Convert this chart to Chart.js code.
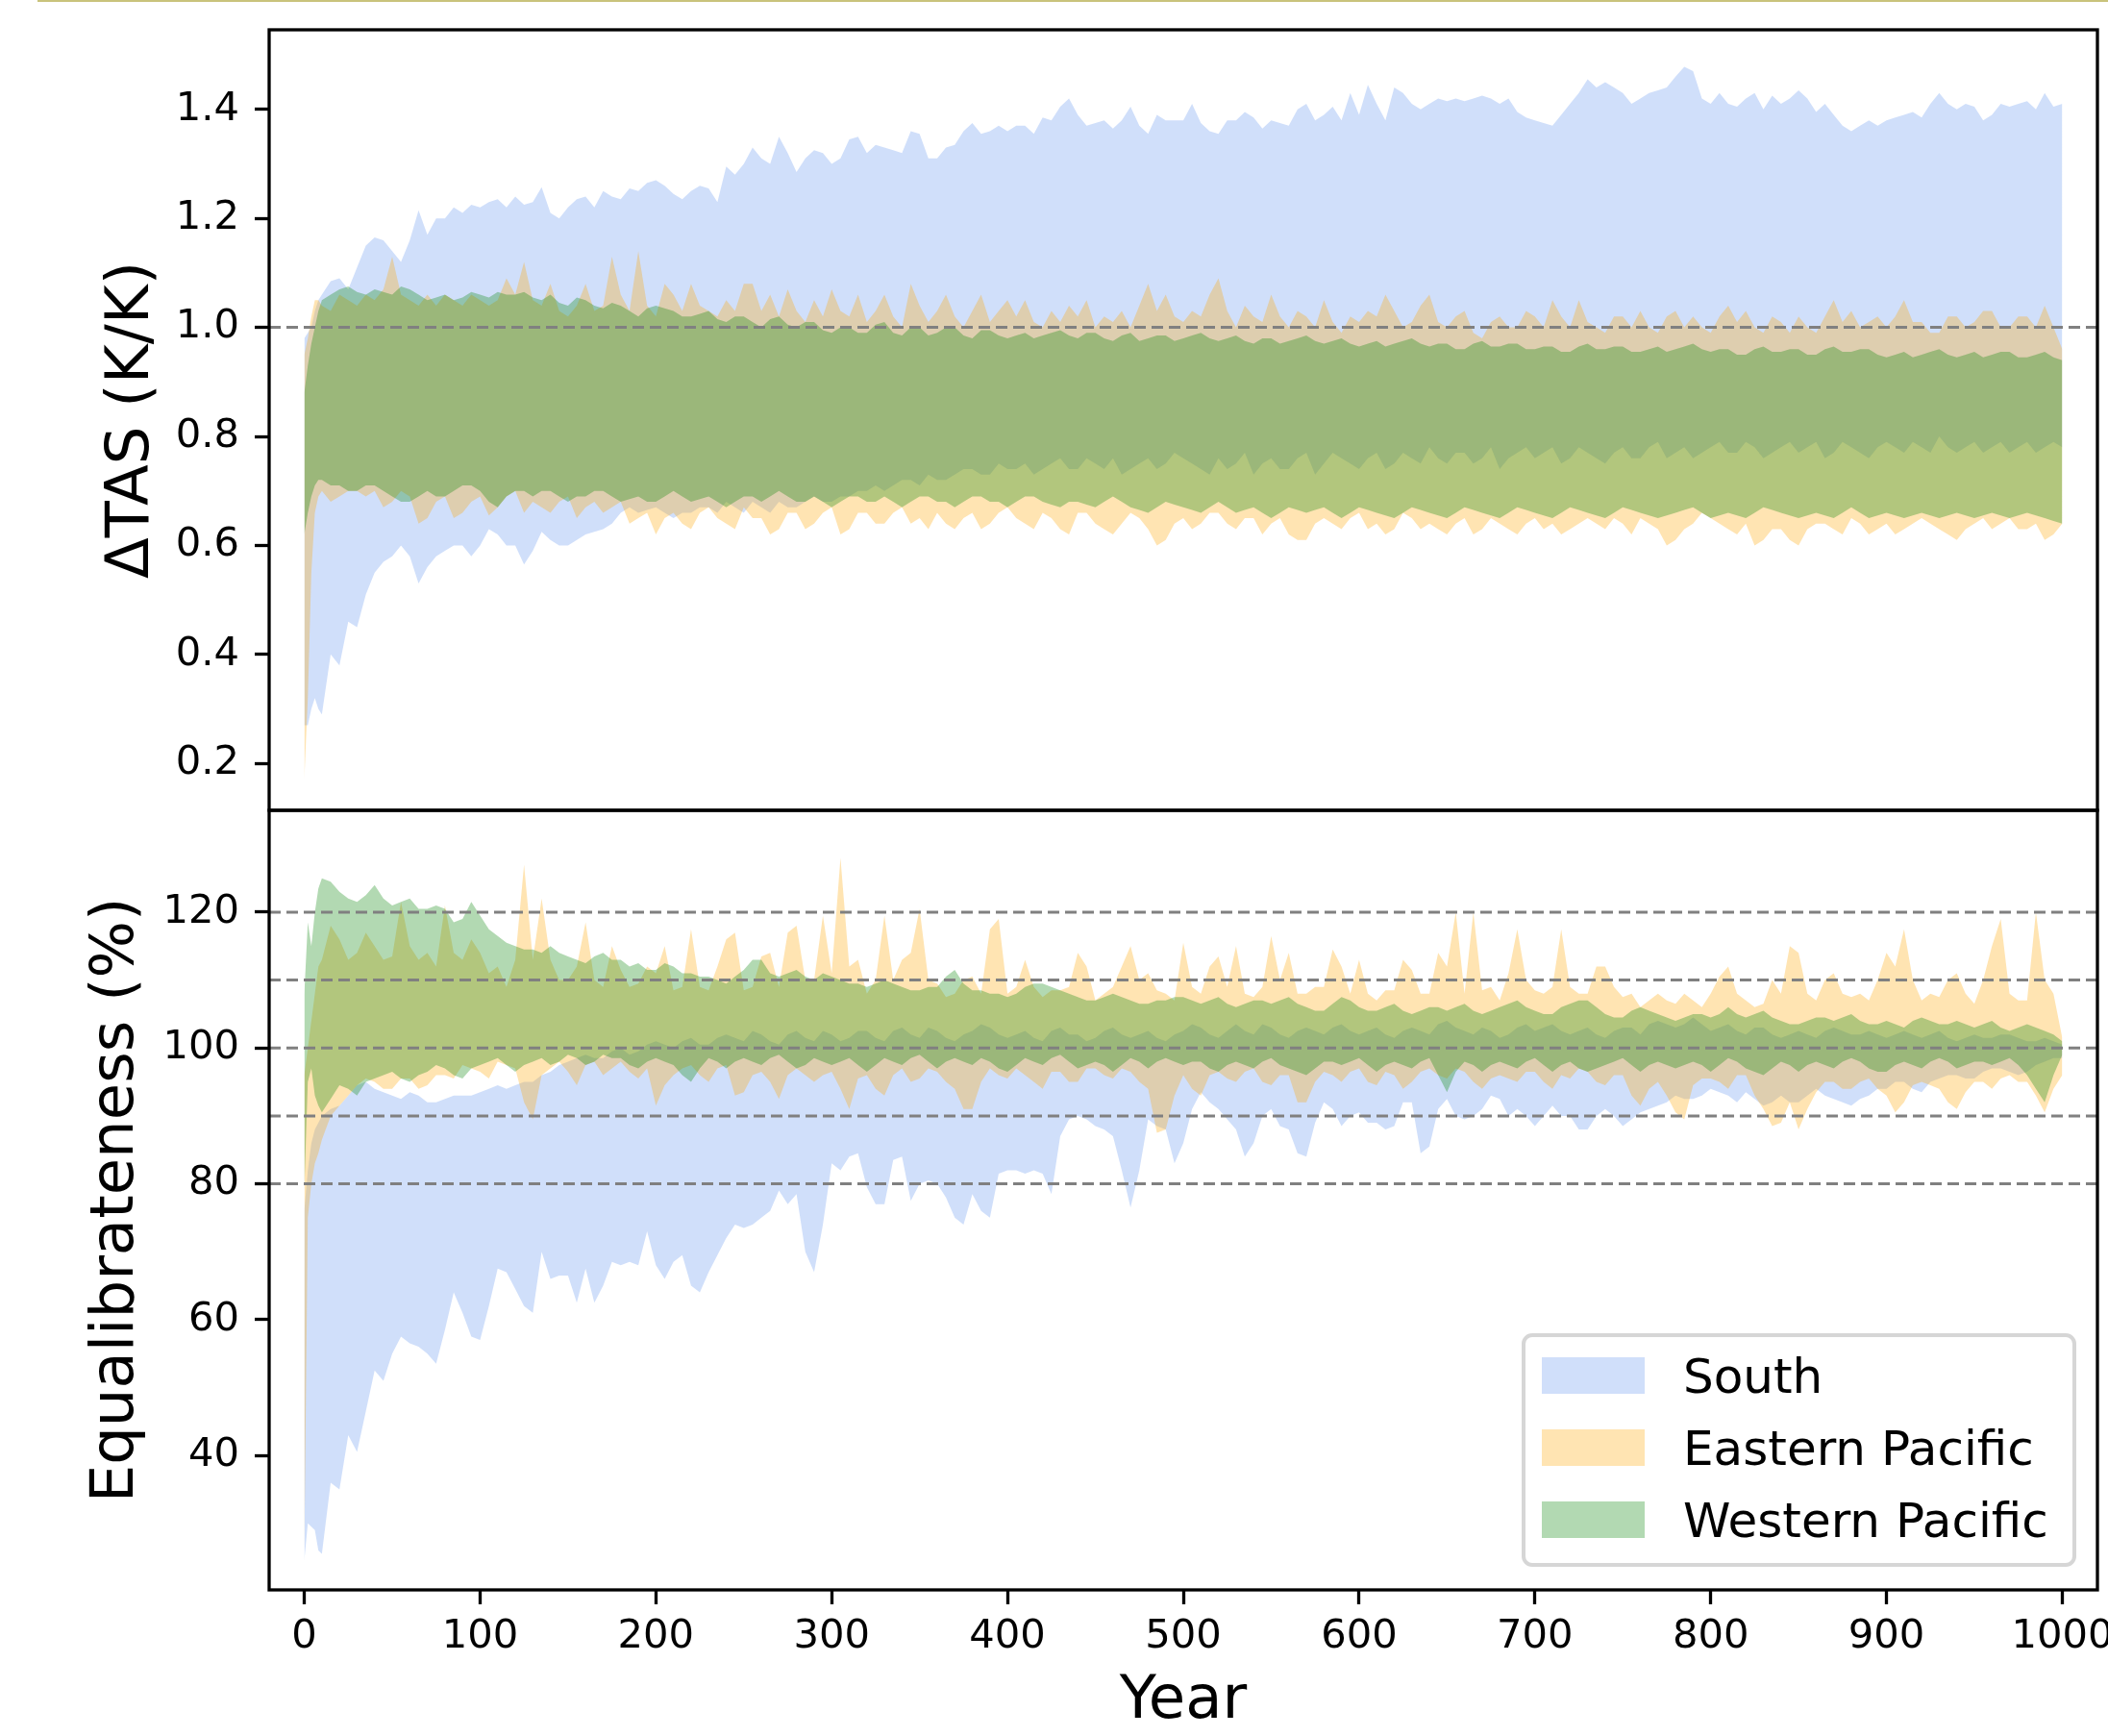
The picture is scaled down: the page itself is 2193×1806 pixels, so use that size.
<!DOCTYPE html>
<html>
<head>
<meta charset="utf-8">
<script src="https://cdn.jsdelivr.net/npm/chart.js@4.4.1/dist/chart.umd.min.js"></script>
<style>
  html, body { margin: 0; padding: 0; background: #fff; }
  body { width: 2193px; height: 1806px; position: relative; overflow: hidden; }
  #topLine { position: absolute; left: 39px; top: 0; width: 2154px; height: 2px; background: #c9c37c; }
  #chartTas { position: absolute; left: 0; top: 0; }
  #chartEq { position: absolute; left: 0; top: 780px; }
</style>
</head>
<body>
<div id="topLine"></div>
<canvas id="chartTas" width="2193" height="860"></canvas>
<canvas id="chartEq" width="2193" height="1026"></canvas>
<script>
Chart.defaults.font.family = "'DejaVu Sans', sans-serif";
Chart.defaults.color = "#000";

// Data
const years = [0, 2, 4, 6, 8, 10,
  15, 20, 25, 30, 35, 40, 45, 50, 55, 60, 65, 70, 75, 80, 85, 90, 95, 100,
  105, 110, 115, 120, 125, 130, 135, 140, 145, 150, 155, 160, 165, 170, 175, 180, 185, 190, 195, 200,
  205, 210, 215, 220, 225, 230, 235, 240, 245, 250, 255, 260, 265, 270, 275, 280, 285, 290, 295, 300,
  305, 310, 315, 320, 325, 330, 335, 340, 345, 350, 355, 360, 365, 370, 375, 380, 385, 390, 395, 400,
  405, 410, 415, 420, 425, 430, 435, 440, 445, 450, 455, 460, 465, 470, 475, 480, 485, 490, 495, 500,
  505, 510, 515, 520, 525, 530, 535, 540, 545, 550, 555, 560, 565, 570, 575, 580, 585, 590, 595, 600,
  605, 610, 615, 620, 625, 630, 635, 640, 645, 650, 655, 660, 665, 670, 675, 680, 685, 690, 695, 700,
  705, 710, 715, 720, 725, 730, 735, 740, 745, 750, 755, 760, 765, 770, 775, 780, 785, 790, 795, 800,
  805, 810, 815, 820, 825, 830, 835, 840, 845, 850, 855, 860, 865, 870, 875, 880, 885, 890, 895, 900,
  905, 910, 915, 920, 925, 930, 935, 940, 945, 950, 955, 960, 965, 970, 975, 980, 985, 990, 995, 1000];

const seriesNames = ["South", "Eastern Pacific", "Western Pacific"];
const seriesColors = ["rgba(100,149,237,0.3)", "rgba(255,165,0,0.3)", "rgba(0,128,0,0.3)"];

const yearTicks = [0, 100, 200, 300, 400, 500, 600, 700, 800, 900, 1000];
const tasTicks = [0.2, 0.4, 0.6, 0.8, 1.0, 1.2, 1.4];
const eqTicks = [40, 60, 80, 100, 120];
const tasRefLines = [1.0];
const eqRefLines = [80, 90, 100, 110, 120];

// Delta TAS (K/K)
const tasSouthHi = [0.98, 0.99, 1.00, 1.03, 1.05, 1.06,
  1.085, 1.09, 1.07, 1.11, 1.15, 1.165, 1.16, 1.14, 1.12, 1.16, 1.215, 1.17, 1.20, 1.20, 1.22, 1.21, 1.225, 1.22,
  1.23, 1.235, 1.22, 1.24, 1.225, 1.23, 1.257, 1.21, 1.20, 1.22, 1.235, 1.24, 1.22, 1.25, 1.24, 1.235, 1.255, 1.25, 1.265, 1.27,
  1.26, 1.245, 1.235, 1.25, 1.26, 1.255, 1.23, 1.295, 1.28, 1.30, 1.33, 1.31, 1.30, 1.35, 1.32, 1.285, 1.31, 1.325, 1.32, 1.30,
  1.31, 1.345, 1.35, 1.32, 1.335, 1.33, 1.325, 1.32, 1.36, 1.355, 1.31, 1.31, 1.33, 1.335, 1.36, 1.375, 1.355, 1.36, 1.37, 1.36,
  1.37, 1.37, 1.355, 1.385, 1.38, 1.405, 1.42, 1.39, 1.37, 1.375, 1.38, 1.365, 1.38, 1.405, 1.37, 1.355, 1.39, 1.38, 1.38, 1.38,
  1.41, 1.375, 1.36, 1.355, 1.38, 1.38, 1.395, 1.385, 1.365, 1.38, 1.375, 1.37, 1.40, 1.41, 1.38, 1.39, 1.405, 1.38, 1.43, 1.39,
  1.445, 1.41, 1.38, 1.44, 1.43, 1.41, 1.40, 1.41, 1.42, 1.415, 1.42, 1.415, 1.42, 1.425, 1.42, 1.41, 1.42, 1.395, 1.385, 1.38,
  1.375, 1.37, 1.39, 1.41, 1.43, 1.455, 1.44, 1.45, 1.44, 1.43, 1.41, 1.42, 1.43, 1.435, 1.44, 1.46, 1.478, 1.47, 1.42, 1.41,
  1.43, 1.41, 1.405, 1.42, 1.43, 1.40, 1.425, 1.41, 1.42, 1.435, 1.42, 1.395, 1.41, 1.39, 1.37, 1.36, 1.37, 1.38, 1.37, 1.38,
  1.385, 1.39, 1.395, 1.385, 1.41, 1.43, 1.41, 1.40, 1.41, 1.405, 1.38, 1.39, 1.41, 1.405, 1.41, 1.415, 1.40, 1.43, 1.405, 1.41];
const tasSouthLo = [0.27, 0.27, 0.30, 0.32, 0.30, 0.29,
  0.40, 0.38, 0.46, 0.45, 0.51, 0.55, 0.57, 0.58, 0.60, 0.58, 0.53, 0.56, 0.58, 0.59, 0.60, 0.60, 0.58, 0.60,
  0.63, 0.62, 0.60, 0.60, 0.565, 0.59, 0.625, 0.61, 0.60, 0.60, 0.61, 0.62, 0.625, 0.63, 0.64, 0.66, 0.67, 0.66, 0.665, 0.67,
  0.66, 0.65, 0.66, 0.66, 0.67, 0.67, 0.66, 0.68, 0.67, 0.66, 0.68, 0.67, 0.66, 0.68, 0.67, 0.67, 0.68, 0.69, 0.68, 0.68,
  0.69, 0.69, 0.70, 0.70, 0.71, 0.70, 0.71, 0.72, 0.72, 0.71, 0.73, 0.72, 0.72, 0.73, 0.74, 0.74, 0.73, 0.73, 0.75, 0.74,
  0.74, 0.75, 0.73, 0.74, 0.75, 0.76, 0.74, 0.74, 0.76, 0.75, 0.74, 0.76, 0.73, 0.74, 0.75, 0.76, 0.74, 0.75, 0.77, 0.76,
  0.75, 0.74, 0.73, 0.76, 0.74, 0.75, 0.77, 0.73, 0.75, 0.76, 0.74, 0.74, 0.76, 0.77, 0.73, 0.75, 0.77, 0.76, 0.75, 0.74,
  0.76, 0.77, 0.74, 0.75, 0.77, 0.76, 0.75, 0.78, 0.76, 0.75, 0.77, 0.77, 0.75, 0.76, 0.78, 0.74, 0.76, 0.77, 0.78, 0.76,
  0.77, 0.78, 0.75, 0.76, 0.78, 0.77, 0.76, 0.75, 0.77, 0.78, 0.76, 0.76, 0.78, 0.79, 0.76, 0.77, 0.78, 0.76, 0.77, 0.78,
  0.79, 0.77, 0.77, 0.79, 0.78, 0.76, 0.77, 0.78, 0.79, 0.77, 0.78, 0.79, 0.76, 0.77, 0.79, 0.78, 0.77, 0.76, 0.78, 0.79,
  0.78, 0.77, 0.79, 0.78, 0.77, 0.80, 0.78, 0.77, 0.78, 0.79, 0.77, 0.78, 0.79, 0.77, 0.78, 0.79, 0.77, 0.78, 0.79, 0.78];
const tasEastHi = [0.95, 0.98, 1.02, 1.05, 1.05, 1.04,
  1.03, 1.06, 1.05, 1.04, 1.06, 1.05, 1.07, 1.13, 1.06, 1.05, 1.04, 1.06, 1.04, 1.06, 1.05, 1.04, 1.06, 1.05,
  1.04, 1.05, 1.09, 1.06, 1.12, 1.05, 1.04, 1.08, 1.03, 1.02, 1.04, 1.08, 1.03, 1.04, 1.13, 1.06, 1.03, 1.14, 1.04, 1.02,
  1.08, 1.06, 1.03, 1.08, 1.04, 1.03, 1.02, 1.05, 1.03, 1.08, 1.08, 1.03, 1.06, 1.02, 1.07, 1.03, 1.01, 1.05, 1.02, 1.07,
  1.03, 1.02, 1.06, 1.01, 1.03, 1.06, 1.02, 1.00, 1.08, 1.04, 1.01, 1.03, 1.06, 1.02, 1.00, 1.03, 1.06, 1.01, 1.03, 1.05,
  1.02, 1.05, 1.01, 1.00, 1.03, 1.01, 1.04, 1.02, 1.05, 1.00, 1.02, 1.01, 1.03, 1.00, 1.04, 1.08, 1.03, 1.06, 1.02, 1.01,
  1.03, 1.02, 1.06, 1.09, 1.03, 1.00, 1.04, 1.02, 1.01, 1.06, 1.02, 1.00, 1.03, 1.02, 1.00, 1.05, 1.01, 0.99, 1.02, 1.01,
  1.03, 1.02, 1.06, 1.03, 1.00, 1.01, 1.04, 1.06, 1.01, 1.00, 1.02, 1.03, 0.99, 0.98, 1.01, 1.02, 1.00, 1.00, 1.03, 1.02,
  1.00, 1.05, 1.02, 1.00, 1.05, 1.01, 1.00, 0.99, 1.02, 1.02, 1.00, 1.03, 1.00, 0.99, 1.02, 1.03, 1.00, 1.02, 1.00, 0.99,
  1.02, 1.04, 1.01, 1.03, 1.00, 0.99, 1.02, 1.01, 0.99, 1.02, 1.00, 0.99, 1.02, 1.05, 1.01, 1.03, 1.00, 1.01, 1.02, 1.00,
  1.02, 1.05, 1.01, 1.01, 0.99, 0.99, 1.02, 1.02, 1.00, 1.01, 1.03, 1.03, 1.00, 1.00, 1.02, 1.02, 1.00, 1.04, 1.00, 0.96];
const tasEastLo = [0.17, 0.32, 0.55, 0.66, 0.69, 0.70,
  0.68, 0.69, 0.70, 0.70, 0.69, 0.70, 0.67, 0.68, 0.70, 0.69, 0.64, 0.65, 0.68, 0.69, 0.65, 0.66, 0.68, 0.69,
  0.655, 0.67, 0.69, 0.70, 0.66, 0.68, 0.67, 0.66, 0.68, 0.69, 0.65, 0.67, 0.68, 0.66, 0.67, 0.68, 0.64, 0.65, 0.66, 0.62,
  0.65, 0.66, 0.64, 0.63, 0.66, 0.67, 0.65, 0.64, 0.63, 0.67, 0.65, 0.65, 0.62, 0.63, 0.66, 0.66, 0.63, 0.64, 0.66, 0.67,
  0.62, 0.63, 0.66, 0.66, 0.64, 0.64, 0.66, 0.67, 0.64, 0.65, 0.63, 0.66, 0.64, 0.63, 0.65, 0.66, 0.63, 0.64, 0.66, 0.67,
  0.65, 0.64, 0.63, 0.66, 0.65, 0.63, 0.62, 0.66, 0.66, 0.64, 0.63, 0.62, 0.64, 0.66, 0.65, 0.63, 0.60, 0.61, 0.64, 0.65,
  0.63, 0.64, 0.66, 0.66, 0.64, 0.63, 0.65, 0.65, 0.62, 0.64, 0.65, 0.62, 0.61, 0.61, 0.64, 0.65, 0.64, 0.63, 0.65, 0.66,
  0.63, 0.64, 0.62, 0.63, 0.66, 0.65, 0.63, 0.64, 0.63, 0.62, 0.64, 0.65, 0.62, 0.63, 0.65, 0.64, 0.63, 0.62, 0.64, 0.65,
  0.63, 0.64, 0.62, 0.63, 0.64, 0.65, 0.64, 0.63, 0.65, 0.64, 0.62, 0.65, 0.64, 0.63, 0.60, 0.61, 0.63, 0.64, 0.66, 0.65,
  0.64, 0.63, 0.62, 0.64, 0.60, 0.61, 0.63, 0.63, 0.61, 0.60, 0.63, 0.64, 0.64, 0.63, 0.62, 0.65, 0.64, 0.62, 0.63, 0.64,
  0.62, 0.63, 0.64, 0.65, 0.64, 0.63, 0.62, 0.61, 0.63, 0.64, 0.65, 0.63, 0.64, 0.65, 0.63, 0.63, 0.64, 0.61, 0.62, 0.64];
const tasWestHi = [0.88, 0.93, 0.97, 1.00, 1.03, 1.05,
  1.06, 1.07, 1.075, 1.065, 1.06, 1.07, 1.065, 1.06, 1.075, 1.07, 1.06, 1.05, 1.055, 1.06, 1.05, 1.055, 1.065, 1.06,
  1.055, 1.065, 1.06, 1.06, 1.065, 1.055, 1.05, 1.06, 1.045, 1.04, 1.055, 1.05, 1.04, 1.035, 1.045, 1.04, 1.03, 1.02, 1.035, 1.04,
  1.035, 1.03, 1.02, 1.02, 1.025, 1.03, 1.015, 1.01, 1.02, 1.02, 1.01, 1.00, 1.015, 1.02, 1.005, 1.00, 1.01, 1.01, 0.995, 0.99,
  1.00, 1.00, 0.99, 0.99, 1.005, 1.01, 0.99, 0.985, 1.00, 1.00, 0.985, 0.99, 1.00, 1.00, 0.985, 0.98, 0.995, 0.995, 0.985, 0.98,
  0.985, 0.99, 0.98, 0.985, 0.99, 0.995, 0.985, 0.98, 0.99, 0.99, 0.98, 0.975, 0.985, 0.99, 0.975, 0.98, 0.985, 0.985, 0.975, 0.98,
  0.985, 0.99, 0.98, 0.975, 0.98, 0.985, 0.975, 0.97, 0.98, 0.98, 0.97, 0.975, 0.98, 0.985, 0.975, 0.97, 0.975, 0.98, 0.97, 0.965,
  0.97, 0.975, 0.965, 0.97, 0.975, 0.98, 0.97, 0.965, 0.97, 0.97, 0.96, 0.96, 0.97, 0.975, 0.965, 0.965, 0.97, 0.97, 0.96, 0.96,
  0.965, 0.965, 0.955, 0.955, 0.965, 0.97, 0.96, 0.96, 0.965, 0.965, 0.955, 0.955, 0.96, 0.965, 0.955, 0.96, 0.965, 0.97, 0.96, 0.955,
  0.96, 0.96, 0.95, 0.95, 0.96, 0.965, 0.955, 0.955, 0.96, 0.96, 0.95, 0.95, 0.96, 0.965, 0.955, 0.955, 0.96, 0.96, 0.95, 0.945,
  0.95, 0.955, 0.945, 0.95, 0.955, 0.96, 0.95, 0.945, 0.95, 0.955, 0.945, 0.95, 0.955, 0.955, 0.945, 0.945, 0.95, 0.955, 0.945, 0.94];
const tasWestLo = [0.62, 0.66, 0.69, 0.71, 0.72, 0.72,
  0.71, 0.71, 0.70, 0.70, 0.71, 0.71, 0.70, 0.69, 0.68, 0.68, 0.69, 0.70, 0.69, 0.69, 0.70, 0.71, 0.71, 0.70,
  0.68, 0.67, 0.69, 0.70, 0.70, 0.69, 0.70, 0.70, 0.69, 0.68, 0.69, 0.69, 0.70, 0.70, 0.69, 0.68, 0.685, 0.69, 0.68, 0.68,
  0.69, 0.70, 0.69, 0.68, 0.685, 0.69, 0.68, 0.67, 0.68, 0.69, 0.69, 0.68, 0.69, 0.70, 0.69, 0.68, 0.68, 0.69, 0.68, 0.67,
  0.68, 0.69, 0.69, 0.68, 0.68, 0.69, 0.68, 0.67, 0.68, 0.69, 0.69, 0.68, 0.68, 0.67, 0.68, 0.69, 0.69, 0.68, 0.68, 0.67,
  0.68, 0.69, 0.69, 0.68, 0.675, 0.67, 0.68, 0.68, 0.675, 0.67, 0.68, 0.69, 0.68, 0.67, 0.665, 0.66, 0.67, 0.68, 0.675, 0.67,
  0.665, 0.66, 0.67, 0.68, 0.67, 0.66, 0.665, 0.67, 0.66, 0.65, 0.66, 0.67, 0.665, 0.66, 0.665, 0.67, 0.66, 0.65, 0.66, 0.67,
  0.665, 0.66, 0.655, 0.65, 0.66, 0.67, 0.665, 0.66, 0.655, 0.65, 0.66, 0.67, 0.665, 0.66, 0.655, 0.65, 0.66, 0.67, 0.665, 0.66,
  0.655, 0.65, 0.66, 0.67, 0.665, 0.66, 0.655, 0.65, 0.66, 0.67, 0.665, 0.66, 0.655, 0.65, 0.655, 0.66, 0.665, 0.67, 0.66, 0.65,
  0.655, 0.66, 0.655, 0.65, 0.66, 0.67, 0.665, 0.66, 0.655, 0.65, 0.655, 0.66, 0.655, 0.65, 0.66, 0.67, 0.66, 0.65, 0.655, 0.66,
  0.655, 0.65, 0.655, 0.66, 0.655, 0.65, 0.655, 0.66, 0.655, 0.65, 0.655, 0.66, 0.655, 0.65, 0.655, 0.66, 0.655, 0.65, 0.645, 0.64];

// Equalibrateness (%)
const eqSouthHi = [76, 82, 86, 88, 89, 90,
  91, 91.5, 93, 94.5, 95, 94, 93.5, 93, 92.5, 93.5, 93, 92, 92, 92.5, 93, 93, 93, 93.5,
  94, 94.5, 94, 94.5, 95, 95, 96, 96.5, 97.5, 98, 98.5, 99, 98.5, 98.5, 99.5, 100, 99, 99.5, 100.5, 101,
  100.5, 100, 101, 101.5, 100.5, 100.5, 101.5, 102, 101.5, 101, 102.5, 102, 101, 100.5, 102, 102.5, 101.5, 101, 102.5, 102,
  101, 101.5, 102.5, 102.5, 101.5, 101, 102.5, 103, 102, 101.5, 103, 102.5, 101.5, 101, 102, 102.5, 103.5, 103, 102, 101.5,
  102, 102.5, 101.5, 101, 102.5, 103, 102, 102, 101, 101.5, 102.5, 103, 102, 101.5, 102, 102.5, 101.5, 101, 102, 102.5,
  103.5, 103, 102, 101.5, 102.5, 103.5, 102.5, 102, 103.5, 103, 102, 101.5, 102.5, 103, 102.5, 102, 103, 103.5, 102.5, 102,
  102.5, 103, 102, 101.5, 102.5, 103, 102.5, 102, 103.5, 104, 103, 102.5, 102, 103, 102.5, 101.5, 102, 103, 103.5, 102.5,
  103, 103.5, 102.5, 102, 102.5, 103, 102, 101.5, 102.5, 103, 103, 102, 103.5, 104, 103.5, 103, 103.5, 104.5, 103.5, 102.5,
  103, 103.5, 102.5, 102, 103, 103, 102, 101.5, 102, 102.5, 102, 101.5, 102.5, 103, 102.5, 102, 102, 102.5, 102, 101.5,
  102, 102.5, 102, 101.5, 102, 102.5, 101.5, 101, 101.5, 102, 101.5, 101.5, 102, 102, 101.5, 101, 101, 101.5, 101, 100.5];
const eqSouthLo = [24.5, 30, 29.5, 29, 26, 25.5,
  36, 35, 43, 40.5, 46.5, 52.5, 51, 55, 57.5, 56.5, 56, 55, 53.5, 58.5, 64, 61, 57.5, 57,
  62, 67.5, 67, 64.5, 62, 61, 70, 66, 66.5, 66.5, 62.5, 67.5, 62.5, 65, 68.5, 68, 68.5, 68, 73, 68,
  66, 68.5, 69.5, 65, 64, 67, 69.5, 72, 74, 73.5, 74, 75, 76, 79, 77, 78.5, 70, 67, 74, 83,
  82, 84, 84.5, 79.5, 77, 77, 83.5, 84, 77.5, 80, 80.5, 80, 78, 75, 74, 78.5, 76, 75, 81.5, 82,
  82, 81.5, 82, 81.5, 78.5, 87, 89.5, 90, 89.5, 88.5, 88, 87, 82, 76.5, 82, 89.5, 88.5, 88, 83, 86,
  91, 93.5, 92, 91, 89.5, 88, 84, 86, 90, 91, 88.5, 88, 84.5, 84, 89, 92, 91, 88.5, 90, 90.5,
  89, 89, 88, 88.5, 92, 92, 84.5, 85.5, 91, 92.5, 90, 89.5, 90, 91, 93, 92.5, 90, 91, 90, 88.5,
  90, 91.5, 90, 90, 88, 88, 90, 91, 90, 88.5, 89.5, 90.5, 91, 91.5, 92, 93, 92.5, 92.5, 93, 94,
  93.5, 93, 92, 93.5, 92.5, 91.5, 92, 93, 92, 92, 93, 94, 93, 92.5, 92, 91.5, 92.5, 93, 94, 94,
  95, 95, 94, 93.5, 95, 95.5, 96, 96, 95.5, 95.5, 96.5, 97, 97, 96.5, 96, 96.5, 97.5, 98, 98.5, 98.5];
const eqEastHi = [96, 100, 104, 108, 112, 113,
  118, 116, 113, 114, 117, 115, 113, 113.5, 121.5, 115, 113, 114, 112, 121, 114, 113, 116, 114,
  111, 112, 109, 113, 127, 113, 122, 113, 110, 110, 112, 118.5, 110, 109, 115, 111.5, 109, 109.5, 112, 111,
  115, 108.5, 109, 117.5, 109, 108.5, 112, 116, 117, 108.5, 109, 113.5, 114, 109, 117, 118, 110, 110, 119.5, 111,
  128, 112, 113, 108, 110, 119.5, 110, 113, 114, 120.5, 110, 109.5, 107.5, 108, 110, 110.5, 108, 117.5, 119, 108,
  109, 113, 109, 107.5, 108.5, 108.5, 109, 114, 112, 107, 108, 109, 112, 115, 110, 111, 108.5, 108, 107, 115.5,
  109, 108, 112, 113.5, 109, 115, 108, 107.5, 109, 116.5, 110, 114, 108, 108, 109, 109, 114.5, 112, 108, 113,
  108, 107, 108.5, 108.5, 113, 111.5, 108, 108, 114, 112, 120, 108, 120, 108.5, 109, 107, 111, 117.5, 110, 108.5,
  108, 109, 117.5, 109, 108, 108, 112, 112, 109, 107.5, 108, 106, 107, 108, 107, 106.5, 108, 107, 106, 108,
  110.5, 112, 108, 107, 106, 106.5, 110, 108, 115, 114, 108, 107, 110, 111, 108, 107.5, 108, 107, 110, 114,
  112, 117.5, 110, 107, 108, 107.5, 110, 111, 108, 106.5, 110, 115, 119, 108, 107, 107, 120, 110, 108, 101.5];
const eqEastLo = [26, 75, 80, 83, 84.5, 86.5,
  90, 91.5, 93, 94.5, 95.5, 95, 94, 94, 95.5, 95.5, 94, 94.5, 96, 96, 95.5, 97.5, 97, 96.5,
  95.5, 98, 97.5, 97, 92, 89.5, 96, 97, 98, 96.5, 94.5, 97.5, 98, 96, 97, 98, 96.5, 95.5, 97, 91.5,
  94.5, 96, 97, 97.5, 96, 95, 97, 97.5, 93, 93.5, 96, 96.5, 95, 92.5, 96, 97, 96, 95, 96, 96.5,
  94, 91, 95.5, 96, 94, 93, 96, 97, 95, 95.5, 97, 96.5, 95, 94, 91, 91, 95, 97, 96, 95.5,
  97, 96, 95, 94, 96.5, 96.5, 95, 95, 97, 97, 96, 95.5, 97, 96.5, 95, 94, 87.5, 88, 93, 96,
  94, 93, 96, 96.5, 95.5, 95, 96.5, 97, 95, 94.5, 96, 96, 92, 92, 95, 96.5, 96, 95, 96.5, 97,
  95, 94.5, 96.5, 96, 94, 95, 96.5, 97, 96, 95.5, 97, 96.5, 95, 94, 95.5, 96, 95.5, 95, 96.5, 96.5,
  95, 94, 96, 95.5, 97, 96.5, 95, 94.5, 96, 96, 93, 91.5, 94, 95, 93, 90.5, 89.5, 94.5, 95.5, 95.5,
  95, 94, 96, 96, 93, 91, 88.5, 89, 92, 88, 91, 93.5, 95, 95, 94, 94, 95, 95.5, 94, 93,
  90.5, 92, 94.5, 95, 94.5, 94, 92, 91, 93.5, 95, 95, 94, 95.5, 96, 95, 95, 93, 90.5, 94, 96];
const eqWestHi = [108, 118.5, 115, 120, 123.5, 125,
  124.5, 123, 122, 121.5, 122.5, 124, 122, 121, 121.5, 122, 120.5, 120.5, 121, 120.5, 118.5, 119, 121.5, 119.5,
  117.5, 116.5, 115.5, 115, 114.5, 114.5, 114, 115, 114, 113.5, 113, 112.5, 113.5, 114, 113, 113, 112, 112.5, 111.5, 111.5,
  112.5, 112, 111, 111, 110.5, 110.5, 110, 109.5, 110.5, 111.5, 113, 113, 111, 110.5, 111, 111.5, 110.5, 110, 111, 110.5,
  110, 109.5, 109.5, 109, 109.5, 110, 109.5, 109, 108.5, 108.5, 109, 109, 110.5, 111.5, 109.5, 108.5, 108.5, 108, 108, 107.5,
  108, 109, 109.5, 109.5, 109, 108.5, 108, 107.5, 107, 107, 107.5, 108, 107.5, 107, 106.5, 106.5, 107, 107, 107.5, 107.5,
  107, 106.5, 107, 107.5, 106.5, 106, 106.5, 107, 107, 106.5, 107, 107.5, 106.5, 106, 105.5, 105.5, 106.5, 107.5, 107, 106,
  105.5, 105.5, 106, 106.5, 105.5, 105, 105.5, 106, 106, 105.5, 106, 106.5, 105.5, 105, 105.5, 106, 106.5, 107, 106, 105.5,
  105, 105, 106, 106.5, 107, 107, 106, 105, 104.5, 104.5, 105.5, 106, 105.5, 105, 104.5, 104, 104.5, 105, 105, 104.5,
  105, 106, 105, 104.5, 105, 105.5, 104.5, 104, 103.5, 103.5, 104, 104.5, 104.5, 104, 104.5, 105, 104, 103.5, 103.5, 104,
  103.5, 103, 104, 104.5, 104, 103.5, 103.5, 104, 103.5, 103, 103.5, 104, 103, 102.5, 103, 103.5, 103, 102.5, 102, 101];
const eqWestLo = [79, 95, 97, 93, 91.5, 90.5,
  92.5, 94.5, 94, 93, 95, 95.5, 96, 96.5, 95.5, 95, 96, 96.5, 97.5, 97, 96, 95.5, 97, 97.5,
  98, 98.5, 97.5, 96.5, 97.5, 98, 98.5, 97.5, 98, 99, 98.5, 97.5, 98, 99, 98.5, 98.5, 97.5, 97, 98, 98.5,
  98, 97.5, 96, 95, 97, 98.5, 98, 97, 98, 98.5, 98, 97.5, 98.5, 99, 98, 97, 97.5, 98.5, 98, 97.5,
  98, 98.5, 97.5, 96.5, 97.5, 98.5, 98, 97.5, 98.5, 99, 98, 97, 98, 98.5, 98, 97.5, 98.5, 98, 97, 96.5,
  97.5, 98.5, 98, 97.5, 98.5, 99, 98, 97, 97.5, 98, 97.5, 96.5, 97.5, 98.5, 98, 97, 98, 98.5, 98, 97.5,
  98, 98, 97, 96.5, 97.5, 98, 97.5, 97, 98, 98.5, 97.5, 97, 96.5, 96, 97, 98, 98, 97.5, 98, 98.5,
  97.5, 96.5, 97.5, 98, 97.5, 97, 98, 98.5, 96, 93.5, 96.5, 98, 97.5, 96.5, 97.5, 98, 97.5, 97, 98, 98.5,
  97.5, 96.5, 97.5, 98, 97, 96.5, 97, 97.5, 98, 98.5, 97.5, 96.5, 97.5, 98, 97.5, 97, 97.5, 98, 97.5, 96.5,
  97.5, 98.5, 98, 97, 96.5, 96, 97, 98, 97.5, 96.5, 97.5, 98, 97.5, 97, 98, 98.5, 98, 97, 96.5, 96.5,
  97.5, 98, 97.5, 97, 98, 98.5, 98, 97, 97.5, 98, 98, 97.5, 98, 98.5, 97.5, 96, 94, 92, 96, 99];

// helpers
function pts(vals) {
  return years.map(function(x, i) { return { x: x, y: vals[i] }; });
}

function band(i, hi, lo, first) {
  return [
    { label: seriesNames[i], data: pts(hi), fill: first + 1, backgroundColor: seriesColors[i],
      borderColor: "rgba(0,0,0,0)", borderWidth: 0, pointRadius: 0, tension: 0, order: 3 - i },
    { label: seriesNames[i] + " low", data: pts(lo), fill: false,
      borderColor: "rgba(0,0,0,0)", borderWidth: 0, pointRadius: 0, tension: 0, order: 3 - i }
  ];
}

function refLine(y) {
  return { label: "ref", data: [{ x: -20, y: y }, { x: 1020, y: y }], fill: false,
    borderColor: "#808080", borderWidth: 3, borderDash: [12, 6], pointRadius: 0, order: 0 };
}

function yScale(min, max, tickVals, fmt, title, titlePad) {
  return {
    type: "linear",
    min: min,
    max: max,
    afterBuildTicks: function(s) { s.ticks = tickVals.map(function(v) { return { value: v }; }); },
    afterFit: function(s) { s.width = 280; s.paddingTop = 0; s.paddingBottom = 0; },
    grid: { drawOnChartArea: false, drawTicks: true, tickLength: 15, tickWidth: 3.3, tickColor: "#000" },
    border: { display: false },
    ticks: { font: { size: 41.67 }, color: "#000", padding: 16, autoSkip: false, callback: fmt },
    title: { display: true, text: title, color: "#000", font: { size: 62.5 }, padding: { top: titlePad, bottom: 0 } }
  };
}

const framePlugin = {
  id: "frame",
  afterDatasetsDraw(chart) {
    const a = chart.chartArea;
    const ctx = chart.ctx;
    ctx.save();
    ctx.strokeStyle = "#000";
    ctx.lineWidth = 3.3;
    ctx.strokeRect(a.left, a.top, a.right - a.left, a.bottom - a.top);
    ctx.restore();
  }
};

const legendPlugin = {
  id: "boxLegend",
  afterDraw(chart) {
    const a = chart.chartArea;
    const ctx = chart.ctx;
    const w = 573, h = 239;
    const x0 = a.right - 24 - w;
    const y0 = a.bottom - 26 - h;
    ctx.save();
    ctx.beginPath();
    ctx.roundRect(x0, y0, w, h, 9);
    ctx.fillStyle = "rgba(255,255,255,0.8)";
    ctx.fill();
    ctx.strokeStyle = "#d6d6d6";
    ctx.lineWidth = 4;
    ctx.stroke();
    ctx.font = "50px 'DejaVu Sans'";
    ctx.textBaseline = "alphabetic";
    seriesNames.forEach(function(name, i) {
      const cy = y0 + 42 + i * 75;
      ctx.fillStyle = seriesColors[i];
      ctx.fillRect(x0 + 19, cy - 19, 107, 38);
      ctx.fillStyle = "#000";
      ctx.fillText(name, x0 + 166, cy + 18);
    });
    ctx.restore();
  }
};

// Graphique TAS
const tasSets = []
  .concat(band(0, tasSouthHi, tasSouthLo, 0))
  .concat(band(1, tasEastHi, tasEastLo, 2))
  .concat(band(2, tasWestHi, tasWestLo, 4))
  .concat(tasRefLines.map(refLine));

const tasChart = new Chart(document.getElementById("chartTas"), {
  type: "line",
  data: { datasets: tasSets },
  plugins: [framePlugin],
  options: {
    responsive: false,
    animation: false,
    devicePixelRatio: 1,
    layout: { padding: { top: 31, bottom: 17, left: 0, right: 11 } },
    plugins: { legend: { display: false }, tooltip: { enabled: false } },
    scales: {
      x: { type: "linear", min: -20, max: 1020, display: false },
      y: yScale(0.114, 1.546, tasTicks, function(v) { return v.toFixed(1); }, "\u0394TAS (K/K)", 100)
    }
  }
});

// Graphique Equalibrateness
const eqSets = []
  .concat(band(0, eqSouthHi, eqSouthLo, 0))
  .concat(band(1, eqEastHi, eqEastLo, 2))
  .concat(band(2, eqWestHi, eqWestLo, 4))
  .concat(eqRefLines.map(refLine));

const eqChart = new Chart(document.getElementById("chartEq"), {
  type: "line",
  data: { datasets: eqSets },
  plugins: [framePlugin, legendPlugin],
  options: {
    responsive: false,
    animation: false,
    devicePixelRatio: 1,
    layout: { padding: { top: 63, bottom: 0, left: 0, right: 11 } },
    plugins: { legend: { display: false }, tooltip: { enabled: false } },
    scales: {
      x: {
        type: "linear",
        min: -20,
        max: 1020,
        afterBuildTicks: function(s) { s.ticks = yearTicks.map(function(v) { return { value: v }; }); },
        afterFit: function(s) { s.height = 152; s.paddingLeft = 0; s.paddingRight = 0; },
        grid: { drawOnChartArea: false, drawTicks: true, tickLength: 15, tickWidth: 3.3, tickColor: "#000" },
        border: { display: false },
        ticks: { font: { size: 41.67 }, color: "#000", padding: 9.5, autoSkip: false, maxRotation: 0,
          callback: function(v) { return String(v); } },
        title: { display: true, text: "Year", color: "#000", font: { size: 62.5 }, padding: { top: 0, bottom: -2 } }
      },
      y: yScale(20.2, 135, eqTicks, function(v) { return String(v); }, "Equalibrateness (%)", 84)
    }
  }
});
</script>
</body>
</html>
